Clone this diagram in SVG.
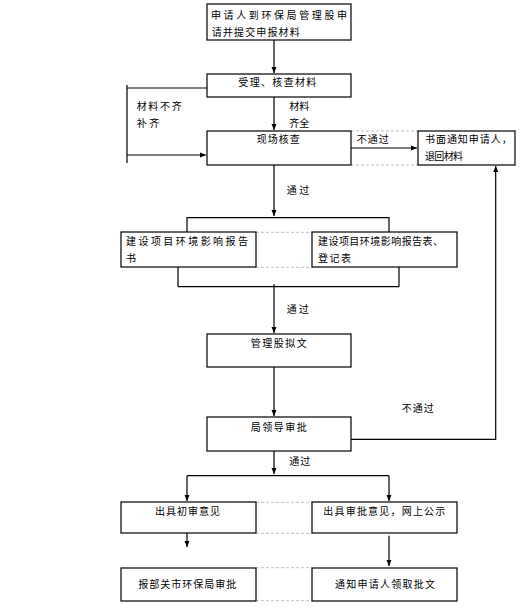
<svg xmlns="http://www.w3.org/2000/svg" width="530" height="614" viewBox="0 0 530 614">
<style>
.box{fill:#fff;stroke:#000;stroke-width:1.2}
.ln{fill:none;stroke:#000;stroke-width:1.2}
.dash{fill:none;stroke:#c0c0c0;stroke-width:1;stroke-dasharray:3,2}
text{font-family:"Noto Sans CJK SC","Noto Sans",sans-serif;font-size:10px;fill:#000}
</style>
<defs>
<marker id="ah" markerUnits="userSpaceOnUse" markerWidth="6" markerHeight="6" refX="6" refY="3" orient="auto">
<path d="M0,0.5 L6,3 L0,5.5 z" fill="#000"/>
</marker>
</defs>
<rect width="530" height="614" fill="#fff"/>
<g id="connectors">
<path class="ln" d="M274,40 V73" marker-end="url(#ah)"/>
<path class="ln" d="M207,88 H127 M127,85 V163"/>
<path class="ln" d="M127,155 H206" marker-end="url(#ah)"/>
<path class="ln" d="M274,97 V130" marker-end="url(#ah)"/>
<path class="ln" d="M351,148 H417" marker-end="url(#ah)"/>
<path class="dash" d="M351,131 H418 M351,165 H418"/>
<path class="ln" d="M274,165 V216" marker-end="url(#ah)"/>
<path class="ln" d="M187,232 V217.7 H389 V232"/>
<path class="dash" d="M256,232.3 H312 M256,267.3 H312"/>
<path class="ln" d="M178,267 V286.7 M399,267 V286.7 M178,286.7 H399"/>
<path class="ln" d="M274,284 V333" marker-end="url(#ah)"/>
<path class="ln" d="M274,367 V416" marker-end="url(#ah)"/>
<path class="ln" d="M351,439.3 H495.7 V166" marker-end="url(#ah)"/>
<path class="ln" d="M274,451 V474" marker-end="url(#ah)"/>
<path class="ln" d="M187,475.7 H389"/>
<path class="ln" d="M187,475.7 V501" marker-end="url(#ah)"/>
<path class="ln" d="M389,475.7 V501" marker-end="url(#ah)"/>
<path class="dash" d="M256,502.3 H312 M256,533.3 H312"/>
<path class="ln" d="M187,508 V547" marker-end="url(#ah)"/>
<path class="ln" d="M389,535.7 V566" marker-end="url(#ah)"/>
<path class="dash" d="M256,567.7 H312 M256,600.7 H312"/>
</g>
<g id="labels">
<text x="136.7" y="109.8" textLength="45" lengthAdjust="spacing">材料不齐</text>
<text x="136.7" y="127.1" textLength="22.6" lengthAdjust="spacing">补齐</text>
<text x="289.3" y="109.8" textLength="20" lengthAdjust="spacing">材料</text>
<text x="289.3" y="127.1" textLength="20" lengthAdjust="spacing">齐全</text>
<text x="356.7" y="143.1" textLength="32" lengthAdjust="spacing">不通过</text>
<text x="286.7" y="193.8" textLength="22.6" lengthAdjust="spacing">通过</text>
<text x="286.7" y="312.8" textLength="22" lengthAdjust="spacing">通过</text>
<text x="401.7" y="412.1" textLength="32" lengthAdjust="spacing">不通过</text>
<text x="289.3" y="464.8" textLength="21" lengthAdjust="spacing">通过</text>
</g>
<g id="n1"><rect class="box" x="207" y="4" width="144" height="36"/>
<text x="211" y="18.8" textLength="136" lengthAdjust="spacing">申请人到环保局管理股申</text>
<text x="211.7" y="35.5" textLength="88" lengthAdjust="spacing">请并提交申报材料</text></g>
<g id="n2"><rect class="box" x="207" y="74" width="144" height="23"/>
<text x="238.3" y="85.5" textLength="78" lengthAdjust="spacing">受理、核查材料</text></g>
<g id="n3"><rect class="box" x="207" y="131" width="144" height="34"/>
<text x="256.7" y="143.1" textLength="43" lengthAdjust="spacing">现场核查</text></g>
<g id="n4"><rect class="box" x="418" y="131" width="97" height="34"/>
<text x="425" y="143.1" textLength="86.7" lengthAdjust="spacing">书面通知申请人，</text>
<text x="425" y="159.8" textLength="38" lengthAdjust="spacing">退回材料</text></g>
<g id="n5"><rect class="box" x="121" y="232" width="135" height="35"/>
<text x="126" y="244.5" textLength="122" lengthAdjust="spacing">建设项目环境影响报告</text>
<text x="126" y="261.5">书</text></g>
<g id="n6"><rect class="box" x="312" y="232" width="145" height="35"/>
<text x="318" y="244.5" textLength="125" lengthAdjust="spacing">建设项目环境影响报告表、</text>
<text x="318" y="261.5" textLength="33" lengthAdjust="spacing">登记表</text></g>
<g id="n7"><rect class="box" x="207" y="334" width="144" height="33"/>
<text x="250.7" y="346.5" textLength="56" lengthAdjust="spacing">管理股拟文</text></g>
<g id="n8"><rect class="box" x="207" y="417" width="144" height="34"/>
<text x="250.7" y="430.5" textLength="56" lengthAdjust="spacing">局领导审批</text></g>
<g id="n9"><rect class="box" x="121" y="502" width="135" height="31"/>
<text x="155" y="514.5" textLength="65" lengthAdjust="spacing">出具初审意见</text></g>
<g id="n10"><rect class="box" x="312" y="502" width="145" height="31"/>
<text x="323.3" y="514.5" textLength="122" lengthAdjust="spacing">出具审批意见，网上公示</text></g>
<g id="n11"><rect class="box" x="121" y="568" width="135" height="33"/>
<text x="138.3" y="587.8" textLength="98" lengthAdjust="spacing">报部关市环保局审批</text></g>
<g id="n12"><rect class="box" x="312" y="568" width="145" height="33"/>
<text x="335" y="587.8" textLength="100" lengthAdjust="spacing">通知申请人领取批文</text></g>
</svg>
